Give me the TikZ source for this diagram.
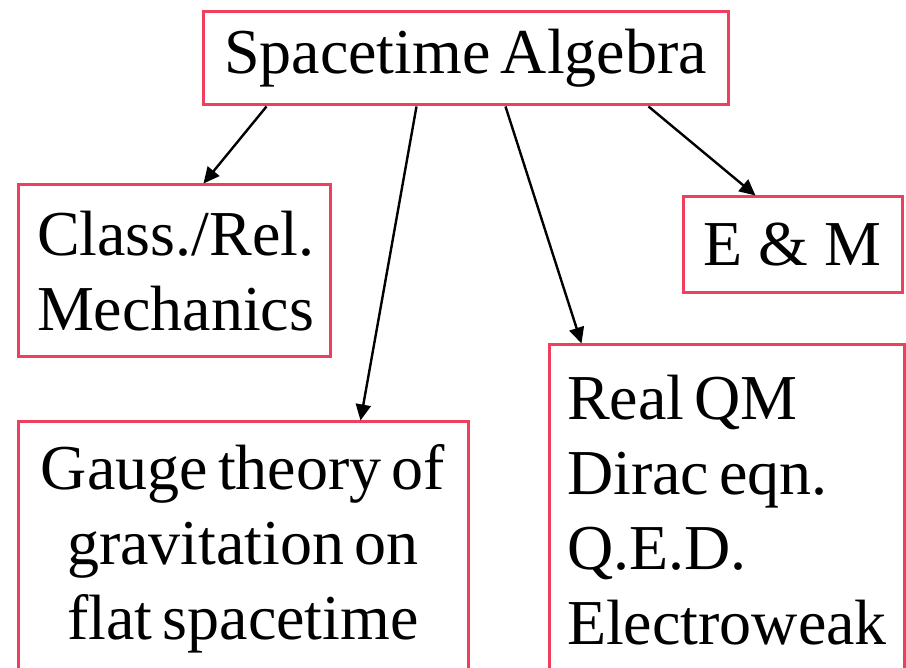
\documentclass[tikz,border=0pt]{standalone}
\usepackage{fontspec}
\setmainfont{Liberation Serif}
\usepackage{tikz}
\usetikzlibrary{arrows.meta}
\newcommand\topicfont{\fontsize{64}{75}\selectfont\spaceskip 0.16em\relax}

\begin{document}
\begin{tikzpicture}[x=1pt,y=1pt]

% Colori
\definecolor{boxRed}{HTML}{EE3F5E}

% Stili
\tikzset{
  topic/.style={draw=boxRed, line width=3pt, inner sep=0pt, font=\topicfont},
  link/.style={draw=black, line width=2.4pt, -{Triangle[length=16pt,width=15pt]}}
}

% Bordi della figura
\clip (0,0) rectangle (906,668);

% Riquadri
\node[topic, minimum width=525pt, minimum height=93pt] (sa) at (465.5,609.5) {Spacetime Algebra};
\node[topic, minimum width=312pt, minimum height=172pt, text width=274pt, align=left] (cm) at (174,397) {Class./Rel.\\Mechanics};
\node[topic, minimum width=219pt, minimum height=96pt] (em) at (792.5,423) {\spaceskip 0.25em\relax E \& M};
\node[topic, minimum width=450pt, minimum height=254pt, text width=430pt, align=center] (gt) at (243,119) {\topicfont Gauge theory of\\gravitation on\\flat spacetime};
\node[topic, minimum width=355pt, minimum height=330pt, text width=319pt, align=left] (qm) at (726.5,158) {\topicfont Real QM\\Dirac eqn.\\Q.E.D.\\Electroweak};

% Frecce
\draw[link] ([xshift=65pt]sa.south west) -- ([xshift=187pt]cm.north west);
\draw[link] ([xshift=215pt]sa.south west) -- ([xshift=344pt]gt.north west);
\draw[link] ([xshift=304pt]sa.south west) -- ([xshift=34pt]qm.north west);
\draw[link] ([xshift=447pt]sa.south west) -- ([xshift=74pt]em.north west);
\end{tikzpicture}
\end{document}
